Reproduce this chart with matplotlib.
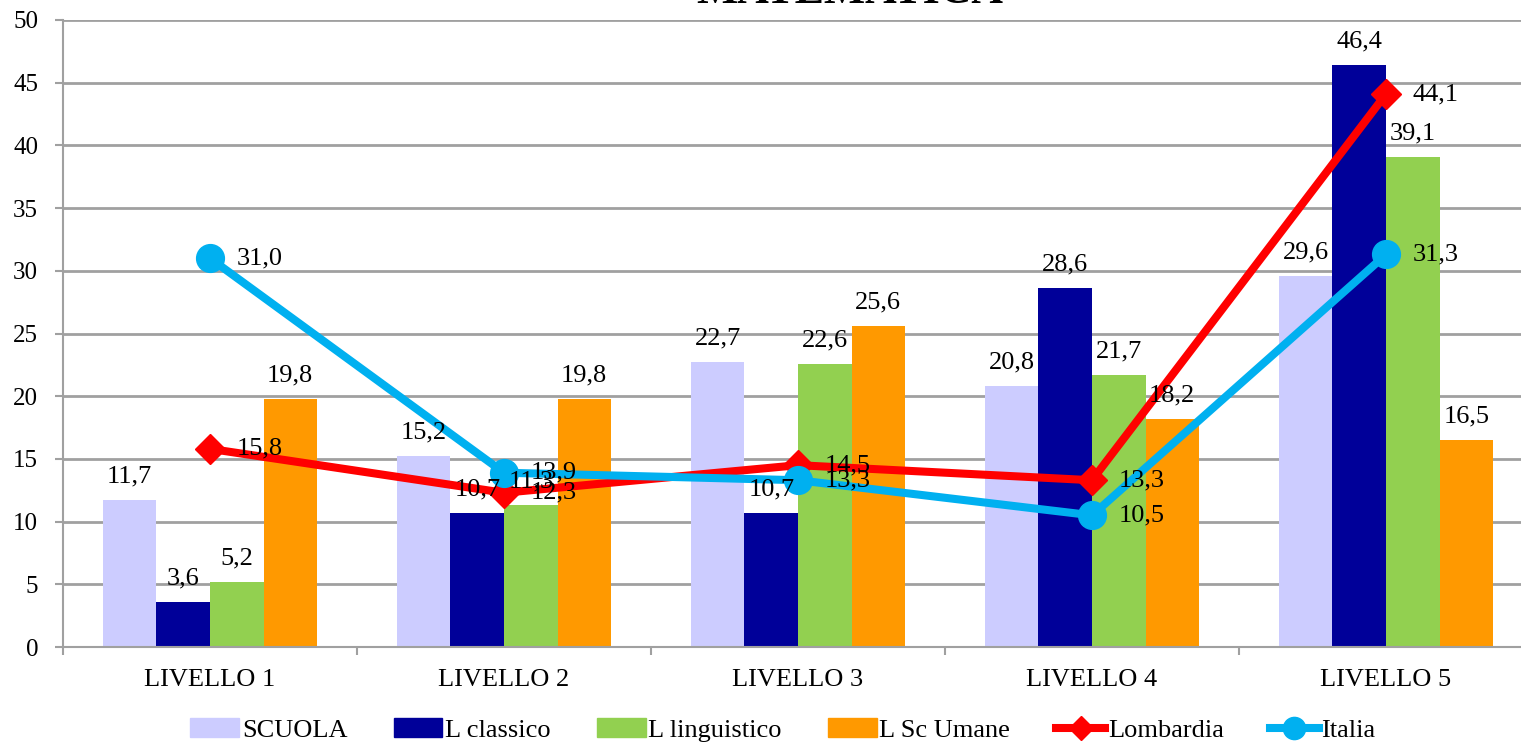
import matplotlib.pyplot as plt
import numpy as np
from matplotlib.lines import Line2D
from matplotlib.patches import Patch

plt.rcParams['font.family'] = ['Liberation Serif', 'DejaVu Serif']

livelli = ["LIVELLO 1", "LIVELLO 2", "LIVELLO 3", "LIVELLO 4", "LIVELLO 5"]
scuola = [11.7, 15.2, 22.7, 20.8, 29.6]
l_classico = [3.6, 10.7, 10.7, 28.6, 46.4]
l_linguistico = [5.2, 11.3, 22.6, 21.7, 39.1]
l_sc_umane = [19.8, 19.8, 25.6, 18.2, 16.5]
lombardia = [15.8, 12.3, 14.5, 13.3, 44.1]
italia = [31.0, 13.9, 13.3, 10.5, 31.3]

bar_series = [
    ("SCUOLA", scuola, "#CCCCFF"),
    ("L classico", l_classico, "#000099"),
    ("L linguistico", l_linguistico, "#92D050"),
    ("L Sc Umane", l_sc_umane, "#FF9900"),
]
line_series = [
    ("Lombardia", lombardia, "#FF0000", "D", 15),
    ("Italia", italia, "#00B0F0", "o", 20),
]


def fmt(v):
    return f"{v:.1f}".replace(".", ",")


fig = plt.figure(figsize=(15.21, 7.43), dpi=100)
ax = fig.add_axes([63 / 1521, 1 - 647 / 743, 1470 / 1521, 627 / 743])

x = np.arange(len(livelli))
w = 0.182
for i, (name, vals, col) in enumerate(bar_series):
    pos = x + (i - 1.5) * w
    ax.bar(pos, vals, width=w, color=col, zorder=2)
    for p, v in zip(pos, vals):
        ax.annotate(fmt(v), (p, v), xytext=(0, 9), textcoords="offset points",
                    ha="center", va="bottom", fontsize=19, zorder=5)

for name, vals, col, mk, ms in line_series:
    ax.plot(x, vals, color=col, lw=5.8, marker=mk, markersize=ms, zorder=3)
    for p, v in zip(x, vals):
        ax.annotate(fmt(v), (p, v), xytext=(19, 0), textcoords="offset points",
                    ha="left", va="center", fontsize=19, zorder=5)

ax.set_xlim(-0.5, 4.5)
ax.set_ylim(0, 50)
ax.set_yticks(range(0, 51, 5))
ax.yaxis.grid(True, color="#A0A0A0", lw=2)
ax.set_axisbelow(True)
ax.set_xticks(x)
ax.set_xticklabels(livelli)
ax.set_xticks(np.arange(-0.5, 5, 1), minor=True)
ax.tick_params(axis="x", which="major", length=0, pad=16, labelsize=19)
ax.tick_params(axis="x", which="minor", length=6, width=1.5, color="#A0A0A0")
ax.tick_params(axis="y", length=6, width=1.5, color="#A0A0A0", labelsize=18, pad=12)
for s in ["top", "right"]:
    ax.spines[s].set_visible(False)
for s in ["left", "bottom"]:
    ax.spines[s].set_color("#A0A0A0")
    ax.spines[s].set_linewidth(1.5)

# title sits mostly above the top edge, as in the reference
fig.text(850 / 1521, 1 - 3 / 743, "MATEMATICA", ha="center", va="baseline",
         fontsize=31.5, fontweight="bold")

handles = [Patch(color=c, label=n) for n, _, c in bar_series]
handles += [Line2D([0], [0], color=c, lw=5.8, marker=m, markersize=ms * 0.8, label=n)
            for n, _, c, m, ms in line_series]
fig.legend(handles=handles, loc="center", bbox_to_anchor=(783 / 1521, 1 - 730 / 743),
           ncol=6, frameon=False, fontsize=19, handlelength=1.85,
           handletextpad=0.1, columnspacing=1.75, borderpad=0)

fig.savefig("out.png", dpi=100)
